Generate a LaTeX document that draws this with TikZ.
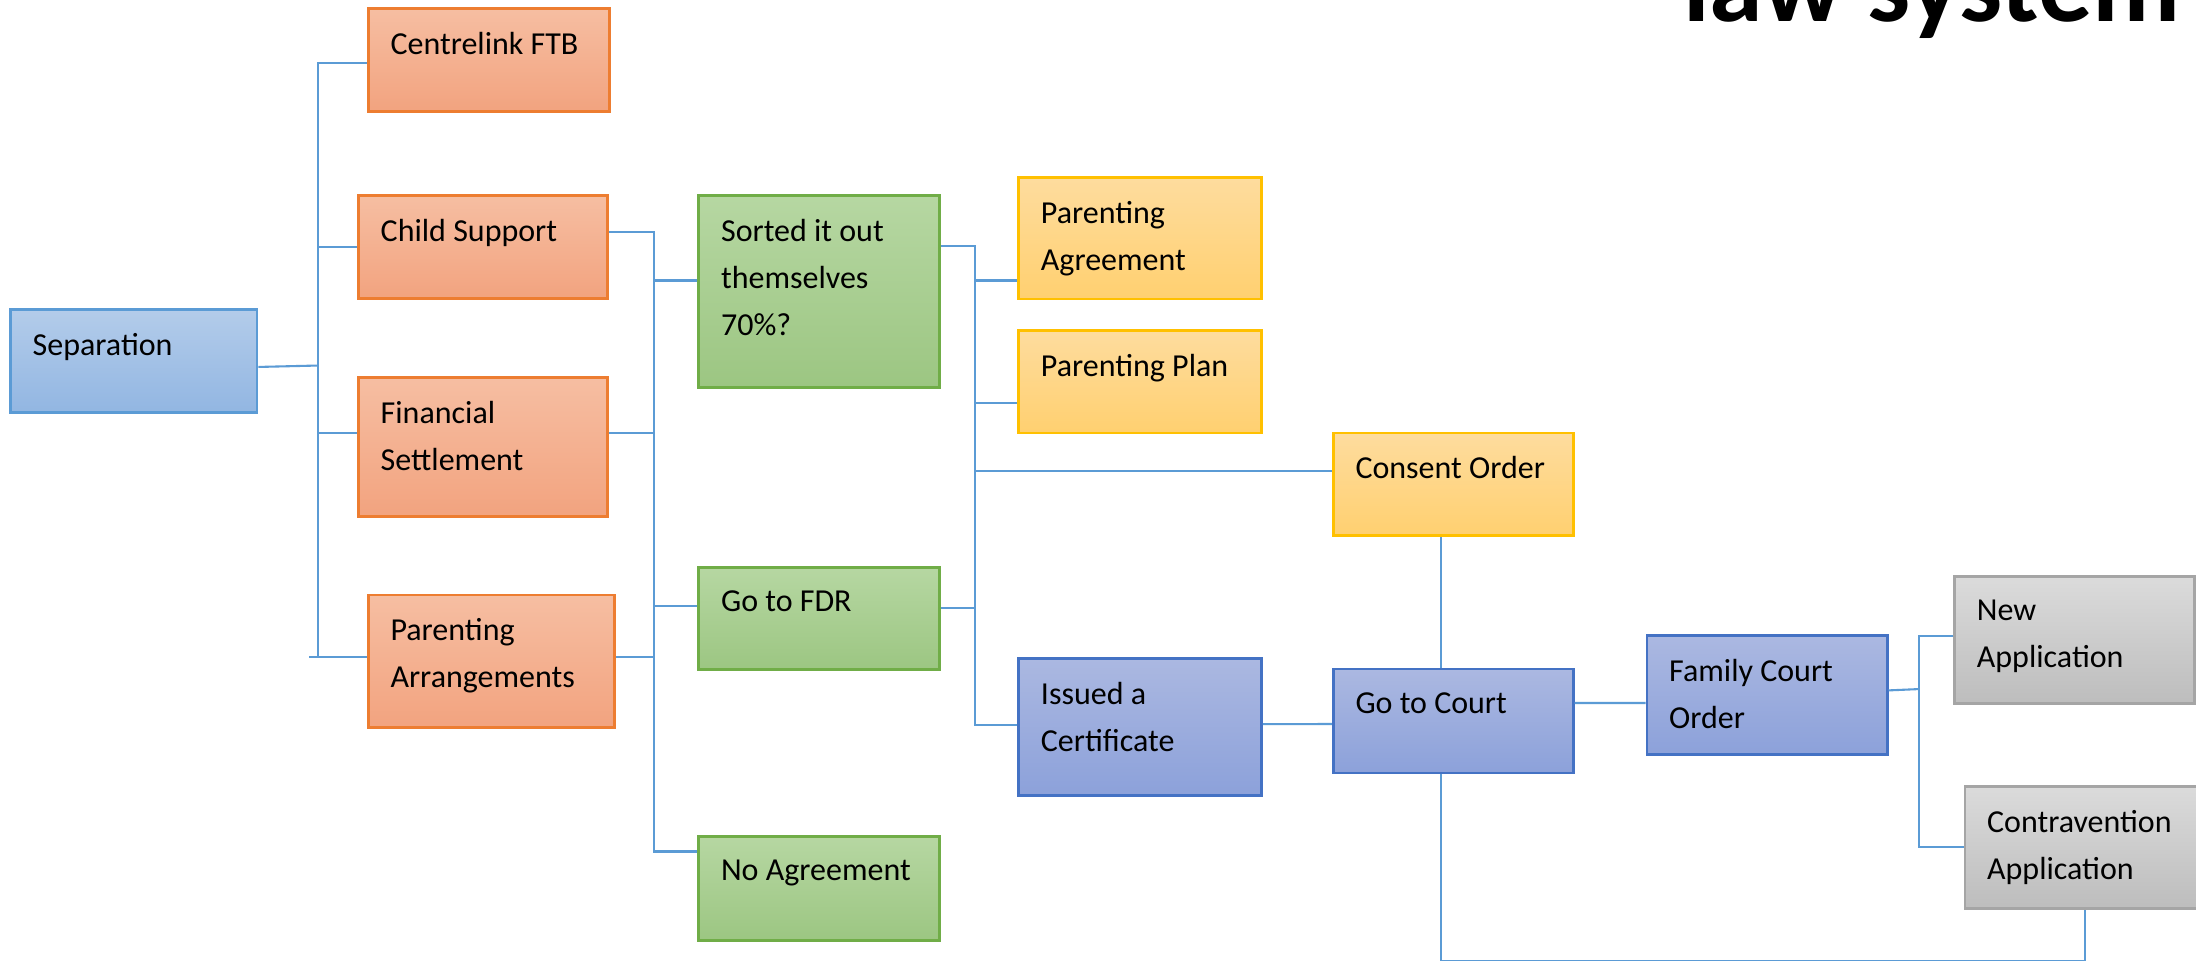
\documentclass[tikz,border=0pt]{standalone}
\usepackage{fontspec}
\setmainfont{Carlito}
\usepackage{xcolor}
\usepackage{tikz}

\definecolor{linkblue}{HTML}{5B9BD5}
\definecolor{sepline}{HTML}{5B9BD5}
\definecolor{septop}{HTML}{B3CCEA}
\definecolor{sepbot}{HTML}{92B6E2}
\definecolor{orline}{HTML}{ED7D31}
\definecolor{ortop}{HTML}{F6BEA2}
\definecolor{orbot}{HTML}{F2A37F}
\definecolor{grline}{HTML}{70AD47}
\definecolor{grtop}{HTML}{B6D7A2}
\definecolor{grbot}{HTML}{9CC682}
\definecolor{yeline}{HTML}{FFC000}
\definecolor{yetop}{HTML}{FEDC9E}
\definecolor{yebot}{HTML}{FFD070}
\definecolor{puline}{HTML}{4472C4}
\definecolor{putop}{HTML}{ABB8E1}
\definecolor{pubot}{HTML}{8CA1DA}
\definecolor{gyline}{HTML}{A5A5A5}
\definecolor{gytop}{HTML}{DBDBDB}
\definecolor{gybot}{HTML}{BDBDBD}

\newcommand{\bxfont}{\fontsize{13}{19.1}\selectfont}
\newcommand{\ttlfont}{\fontsize{44}{48}\selectfont\bfseries}

\begin{document}
\begin{tikzpicture}[x=0.2mm, y=-0.2mm,
  cbox/.style={rectangle, anchor=north west, inner sep=0pt, line width=1.1pt},
  wh/.style 2 args={minimum width=#1*0.2mm, minimum height=#2*0.2mm},
  sepbox/.style={cbox, draw=sepline, top color=septop, bottom color=sepbot},
  orbox/.style={cbox, draw=orline, top color=ortop, bottom color=orbot},
  grbox/.style={cbox, draw=grline, top color=grtop, bottom color=grbot},
  yebox/.style={cbox, draw=yeline, top color=yetop, bottom color=yebot},
  pubox/.style={cbox, draw=puline, top color=putop, bottom color=pubot},
  gybox/.style={cbox, draw=gyline, top color=gytop, bottom color=gybot},
  txt/.style={anchor=north west, inner xsep=3.3mm, inner ysep=3.5mm, align=left, font=\bxfont, text=black},
  link/.style={draw=linkblue, line width=0.85pt},
  ttl/.style={anchor=base west, inner sep=0pt, font=\ttlfont, text=black}]
\useasboundingbox (0,0) rectangle (1568,685.5);
\fill[white] (0,0) rectangle (1568,685.5);
\clip (0,0) rectangle (1568,685.5);

% Title, cut off at the top
\begin{scope}
\clip (0,0) rectangle (1555,60);
\node[ttl] (title) at (1201.4,15.5) {law system};
\end{scope}

% Start
\node[sepbox, wh={176}{73.5}] (sep) at (6.5,220) {};
\node[txt] (sepT) at (sep.north west) {Separation};

% Topics
\node[orbox, wh={172}{73.5}] (cftb) at (262,5) {};
\node[txt] (cftbT) at (cftb.north west) {Centrelink FTB};
\node[orbox, wh={177.6}{73.4}] (csup) at (255,138.6) {};
\node[txt] (csupT) at (csup.north west) {Child Support};
\node[orbox, wh={177.6}{99.5}] (fin) at (255,268.5) {};
\node[txt] (finT) at (fin.north west) {Financial\\Settlement};
\node[orbox, wh={176}{94.7}] (parr) at (262,423.8) {};
\node[txt] (parrT) at (parr.north west) {Parenting\\Arrangements};

% Outcomes
\node[grbox, wh={171.6}{137}] (sort) at (498,138.7) {};
\node[txt] (sortT) at (sort.north west) {Sorted it out\\themselves\\70\%?};
\node[grbox, wh={171.6}{73.3}] (fdr) at (498,404) {};
\node[txt] (fdrT) at (fdr.north west) {Go to FDR};
\node[grbox, wh={171.6}{74.5}] (noag) at (498,596.2) {};
\node[txt] (noagT) at (noag.north west) {No Agreement};

% Agreements and orders
\node[yebox, wh={173.3}{86.9}] (pagr) at (726.4,125.7) {};
\node[txt] (pagrT) at (pagr.north west) {Parenting\\Agreement};
\node[yebox, wh={173.3}{73}] (pplan) at (726.4,235.2) {};
\node[txt] (pplanT) at (pplan.north west) {Parenting Plan};
\node[yebox, wh={171.3}{73.3}] (cons) at (951,308.2) {};
\node[txt] (consT) at (cons.north west) {Consent Order};

% Court path
\node[pubox, wh={173.3}{98.2}] (iss) at (726.4,469) {};
\node[txt] (issT) at (iss.north west) {Issued a\\Certificate};
\node[pubox, wh={171.3}{74.2}] (court) at (951,476.8) {};
\node[txt] (courtT) at (court.north west) {Go to Court};
\node[pubox, wh={171.5}{85}] (fco) at (1175,453) {};
\node[txt] (fcoT) at (fco.north west) {Family Court\\Order};

% After the order
\node[gybox, wh={171.3}{90.5}] (newapp) at (1394.7,410.8) {};
\node[txt] (newappT) at (newapp.north west) {New\\Application};
\node[gybox, wh={171.5}{87}] (contra) at (1402,560.5) {};
\node[txt] (contraT) at (contra.north west) {Contravention\\Application};

% Separation to the topics
\coordinate (j1) at (227,261);
\draw[link] ([shift={(0,4.3)}]sep.east) -- (j1);
\draw[link] ([shift={(0,2.3)}]cftb.west) -| (j1);
\draw[link] (csup.west) -| (j1);
\draw[link] ([shift={(0,-10)}]fin.west) -| (j1);
\draw[link] ([shift={(0,-2.7)}]parr.west) -- +(-41.4,0);
\draw[link] ([shift={(0,-2.7)}]parr.west) -| (j1);

% Topics to outcomes
\coordinate (j2) at (467,300);
\draw[link] ([shift={(0,-10.3)}]csup.east) -| (j2);
\draw[link] ([shift={(0,-10)}]fin.east) -| (j2);
\draw[link] ([shift={(0,-2.7)}]parr.east) -| (j2);
\draw[link] ([shift={(0,-7.9)}]sort.west) -| (j2);
\draw[link] ([shift={(0,-8.6)}]fdr.west) -| (j2);
\draw[link] ([shift={(0,-26.4)}]noag.west) -| (j2);

% Outcomes to next steps
\coordinate (j3) at (696,400);
\draw[link] ([shift={(0,-32.7)}]sort.east) -| (j3);
\draw[link] ([shift={(0,-7.6)}]fdr.east) -| (j3);
\draw[link] ([shift={(0,30.2)}]pagr.west) -| (j3);
\draw[link] ([shift={(0,15.3)}]pplan.west) -| (j3);
\draw[link] ([shift={(0,-9.2)}]cons.west) -| (j3);
\draw[link] ([shift={(0,-1.6)}]iss.west) -| (j3);

% Court
\draw[link] ([shift={(-8.65,0)}]cons.south) -- ([shift={(-8.65,0)}]court.north);
\draw[link] ([shift={(0,-2)}]iss.east) -- ([shift={(0,2.1)}]court.west);
\draw[link] ([shift={(0,-12.9)}]court.east) -- ([shift={(0,5.5)}]fco.west);
\coordinate (j4) at (1370.5,492);
\draw[link] ([shift={(0,-3.5)}]fco.east) -- (j4);
\draw[link] ([shift={(0,-3)}]newapp.west) -| (j4);
\draw[link] (contra.west) -| (j4);
\draw[link] ([shift={(-8.65,0)}]court.south) -- ++(0,133.3) -| (contra.south);
\end{tikzpicture}
\end{document}
